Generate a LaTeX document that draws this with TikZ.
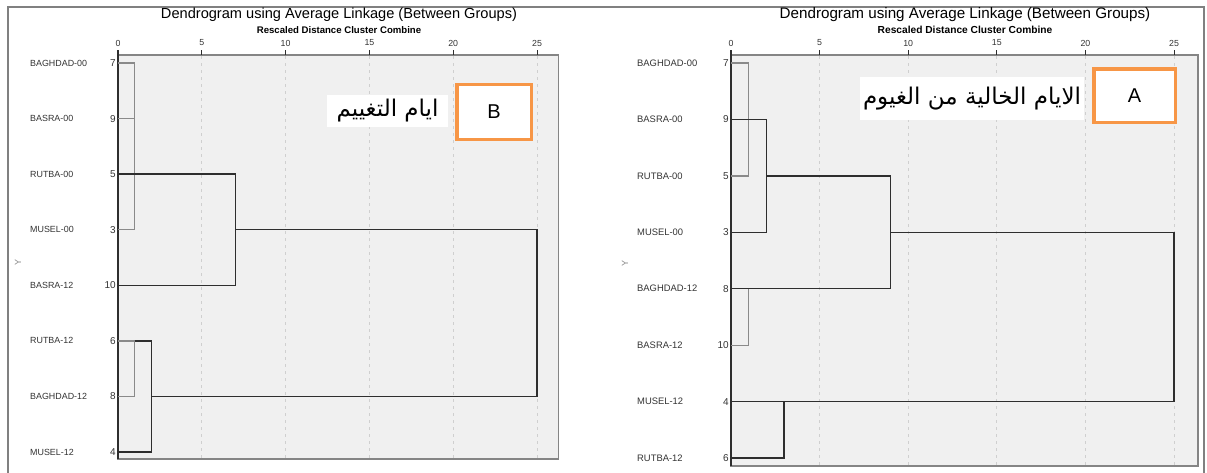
\documentclass[tikz,border=0pt]{standalone}
\usepackage{fontspec}
\setmainfont{Liberation Sans}
\newfontfamily\arabicfont[Script=Arabic]{DejaVu Sans}
\TeXXeTstate=1
\definecolor{plotfill}{HTML}{F0F0F0}
\definecolor{plotborder}{HTML}{858585}
\definecolor{gridgray}{HTML}{CFCFCF}
\definecolor{darkline}{HTML}{2E2E2E}
\definecolor{lightline}{HTML}{8A8A8A}
\definecolor{tagorange}{HTML}{F79646}
\definecolor{framegray}{HTML}{808080}
\definecolor{labeltext}{HTML}{333333}
\tikzset{
  plotbox/.style={fill=plotfill, draw=plotborder, line width=1.4pt},
  vgrid/.style={draw=gridgray, line width=0.9pt, dash pattern=on 3pt off 4pt},
  axisline/.style={draw=darkline, line width=1.5pt},
  tickmark/.style={draw=darkline, line width=1pt},
  ticklabel/.style={font=\fontsize{8.8}{9}\selectfont, text=labeltext, inner sep=0pt},
  darkbranch/.style={draw=darkline, line width=1.4pt},
  lightbranch/.style={draw=lightline, line width=1.2pt},
  rowlabel/.style={anchor=west, text=labeltext, inner sep=0pt},
  rownum/.style={anchor=east, text=labeltext, inner sep=0pt, font=\fontsize{10}{11}\selectfont},
  charttitle/.style={text=black, inner sep=0pt},
  chartsub/.style={text=black, inner sep=0pt, font=\bfseries\fontsize{9.6}{10}\selectfont},
  axisname/.style={rotate=90, text=lightline, inner sep=0pt, font=\fontsize{9}{10}\selectfont},
  arabictag/.style={fill=white, inner sep=0pt, font=\arabicfont\fontsize{23}{26}\selectfont},
  letterbox/.style={draw=tagorange, fill=white, line width=3.5pt, font=\fontsize{20}{22}\selectfont}
}

\begin{document}
\begin{tikzpicture}[x=1pt, y=-1pt]
\useasboundingbox (0,0) rectangle (1207,472);

% Outer frame.
\draw[framegray, line width=1.2pt] (8,480) -- (8,7) -- (1204,7) -- (1204,480);

% Left panel (B).
\node[charttitle, font=\fontsize{14.6}{16}\selectfont] (titleB) at (339,15) {Dendrogram using Average Linkage (Between Groups)};
\node[chartsub] (subB) at (339,30) {Rescaled Distance Cluster Combine};
\node[axisname] (axisB) at (18,262) {Y};
\foreach \y/\lab/\num [count=\i] in {63/BAGHDAD-00/7, 118.6/BASRA-00/9, 174.1/RUTBA-00/5,
    229.7/MUSEL-00/3, 285.3/BASRA-12/10, 340.9/RUTBA-12/6, 396.4/BAGHDAD-12/8, 452/MUSEL-12/4} {
  \node[rowlabel, font=\fontsize{8.9}{10}\selectfont] (lrowB\i) at (30,\y) {\lab};
  \node[rownum] (lnumB\i) at (116,\y) {\num};
}
\begin{scope}[xshift=118pt, x=16.76pt]
  \draw[plotbox] (0,55) rectangle (26.3,459);
  \foreach \d in {5,10,...,25} {
    \draw[vgrid] (\d,56) -- (\d,458);
  }
  \foreach \d in {0,5,...,25} {
    \draw[tickmark] (\d,50) -- (\d,55);
    \node[ticklabel] (tickB\d) at (\d,43) {\d};
  }
  \draw[axisline] (0,50) -- (0,459);
  % branches
  \draw[lightbranch] (0,63) -| (1,229.7) -- (0,229.7);
  \draw[lightbranch] (0,118.6) -- (1,118.6);
  \draw[darkbranch] (0,174.1) -| (7,285.3) -- (0,285.3);
  \draw[darkbranch] (7,229.7) -| (25,396.4) -- (2,396.4);
  \draw[lightbranch] (0,340.9) -| (1,396.4) -- (0,396.4);
  \draw[darkbranch] (1,340.9) -| (2,452) -- (0,452);
\end{scope}
\node[arabictag, minimum width=121pt, minimum height=32pt] (textB) at (387.5,111) {\beginR ايام التغييم\endR};
\node[letterbox, minimum width=74.5pt, minimum height=55pt] (boxB) at (494,112) {B};

% Right panel (A).
\node[charttitle, font=\fontsize{15.2}{17}\selectfont] (titleA) at (965,15) {Dendrogram using Average Linkage (Between Groups)};
\node[chartsub, font=\bfseries\fontsize{10.2}{11}\selectfont] (subA) at (965,30) {Rescaled Distance Cluster Combine};
\node[axisname] (axisA) at (625,263) {Y};
\foreach \y/\lab/\num [count=\i] in {63/BAGHDAD-00/7, 119.4/BASRA-00/9, 175.9/RUTBA-00/5,
    232.3/MUSEL-00/3, 288.7/BAGHDAD-12/8, 345.2/BASRA-12/10, 401.6/MUSEL-12/4, 458/RUTBA-12/6} {
  \node[rowlabel, font=\fontsize{9.4}{10}\selectfont] (lrowA\i) at (637,\y) {\lab};
  \node[rownum] (lnumA\i) at (729,\y) {\num};
}
\begin{scope}[xshift=731pt, x=17.72pt]
  \draw[plotbox] (0,55) rectangle (26.35,466);
  \foreach \d in {5,10,...,25} {
    \draw[vgrid] (\d,56) -- (\d,465);
  }
  \foreach \d in {0,5,...,25} {
    \draw[tickmark] (\d,50) -- (\d,55);
    \node[ticklabel] (tickA\d) at (\d,43) {\d};
  }
  \draw[axisline] (0,50) -- (0,466);
  % branches
  \draw[lightbranch] (0,63) -| (1,175.9) -- (0,175.9);
  \draw[darkbranch] (0,119.4) -| (2,232.3) -- (0,232.3);
  \draw[darkbranch] (2,175.9) -| (9,288.7) -- (0,288.7);
  \draw[lightbranch] (1,288.7) -- (1,345.2) -- (0,345.2);
  \draw[darkbranch] (9,232.3) -| (25,401.6) -- (0,401.6);
  \draw[darkbranch] (3,401.6) -- (3,458) -- (0,458);
\end{scope}
\node[arabictag, minimum width=224pt, minimum height=43pt] (textA) at (972,98.5) {\beginR الايام الخالية من الغيوم\endR};
\node[letterbox, minimum width=81.5pt, minimum height=53.5pt] (boxA) at (1134.5,95.5) {A};

\end{tikzpicture}
\end{document}
